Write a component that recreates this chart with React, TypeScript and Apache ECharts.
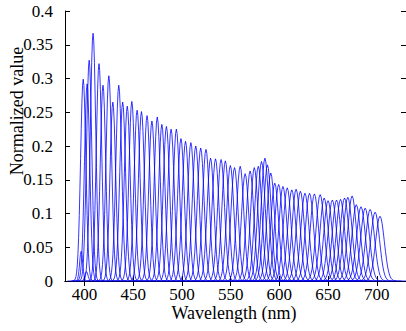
import React, { useEffect, useRef } from "react";
import * as echarts from "echarts";

// Peak wavelength (nm) of each band
const bandCenters = [
  396.6, 402.0, 398.7, 402.7, 404.8, 408.8, 414.9, 419.0, 425.0, 429.1,
  435.2, 439.2, 443.9, 448.6, 454.0, 458.5, 464.2, 469.2, 474.7, 479.4,
  484.1, 488.9, 494.3, 499.0, 503.7, 509.2, 514.2, 519.3, 524.7, 529.4,
  534.5, 540.2, 544.6, 549.7, 554.0, 559.8, 564.9, 570.0, 574.3, 578.4,
  581.7, 585.2, 587.8, 591.2, 595.3, 599.3, 603.7, 608.1, 612.8, 617.2,
  621.6, 626.3, 631.0, 636.0, 641.9, 646.0, 650.0, 654.4, 658.7, 662.8,
  666.9, 670.3, 674.7, 679.0, 683.8, 688.1, 693.2, 698.3, 703.3,
];
// Peak height of each band
const bandHeights = [
  0.044, 0.014, 0.299, 0.292, 0.327, 0.367, 0.322, 0.29, 0.304, 0.265,
  0.29, 0.265, 0.259, 0.266, 0.253, 0.251, 0.245, 0.237, 0.243, 0.232,
  0.229, 0.225, 0.225, 0.211, 0.207, 0.205, 0.2, 0.197, 0.195, 0.182,
  0.181, 0.18, 0.178, 0.171, 0.168, 0.17, 0.159, 0.163, 0.168, 0.17,
  0.177, 0.182, 0.172, 0.16, 0.145, 0.143, 0.14, 0.138, 0.135, 0.136,
  0.133, 0.13, 0.13, 0.129, 0.128, 0.123, 0.119, 0.12, 0.12, 0.121,
  0.123, 0.124, 0.126, 0.113, 0.11, 0.108, 0.106, 0.102, 0.096,
];
// Band width (nm, one standard deviation) of each band
const bandWidths = [
  1.6, 1.6, 2.7, 2.7, 2.7, 2.8, 2.8, 2.8, 2.9, 2.9,
  3.0, 3.0, 3.0, 3.0, 3.1, 3.1, 3.1, 3.2, 3.2, 3.2,
  3.3, 3.3, 3.3, 3.4, 3.4, 3.4, 3.5, 3.5, 3.5, 3.5,
  3.6, 3.6, 3.6, 3.7, 3.7, 3.7, 3.8, 3.8, 3.8, 3.8,
  3.9, 3.9, 3.9, 3.9, 4.0, 4.0, 4.0, 4.0, 4.1, 4.1,
  4.1, 4.1, 4.2, 4.2, 4.2, 4.2, 4.3, 4.3, 4.3, 4.3,
  4.4, 4.4, 4.4, 4.4, 4.5, 4.5, 4.5, 4.5, 4.5,
];
// Relative band profile, sampled at offsets (in band widths) from the peak
const shapeOffsets = [
  -6, -4, -3.5, -3.25, -3, -2.75, -2.5, -2.25, -2, -1.75, -1.5, -1.25, -1, -0.75, -0.5, -0.25,
  0, 0.25, 0.5, 0.75, 1, 1.25, 1.5, 1.75, 2, 2.25, 2.5, 2.75, 3, 3.25, 3.5, 4, 6,
];
const shapeValues = [
  0, 0, 0.0022, 0.0051, 0.0111, 0.0228, 0.0439, 0.0796, 0.1353, 0.2163, 0.3247, 0.4578, 0.6065, 0.7548, 0.8825, 0.9692,
  1, 0.9692, 0.8825, 0.7548, 0.6065, 0.4578, 0.3247, 0.2163, 0.1353, 0.0796, 0.0439, 0.0228, 0.0111, 0.0051, 0.0022, 0, 0,
];

const xTicks = [400, 450, 500, 550, 600, 650, 700];

const FONT = "Liberation Serif";

export default function App() {
  const ref = useRef<HTMLDivElement>(null);
  useEffect(() => {
    if (!ref.current) return;
    const chart = echarts.init(ref.current, null, { renderer: "svg" });
    const series = bandCenters.map((c, i) => ({
      type: "line",
      xAxisIndex: 0,
      yAxisIndex: 0,
      showSymbol: false,
      symbol: "none",
      silent: true,
      clip: true,
      lineStyle: { color: "#0000ff", width: 0.8 },
      data: shapeOffsets.map((o, k) => [c + o * bandWidths[i], bandHeights[i] * shapeValues[k]]),
    }));
    const axisCommon = {
      type: "value",
      axisLine: { show: true, lineStyle: { color: "#000", width: 1 } },
      splitLine: { show: false },
    };
    const rich = {
      t: { color: "#000", fontFamily: FONT, fontSize: 17, fontWeight: "normal" },
    };
    chart.setOption({
      animation: false,
      backgroundColor: "#fff",
      textStyle: { fontFamily: FONT },
      grid: { left: 65, top: 11, width: 345, height: 270, containLabel: false },
      xAxis: [
        {
          ...axisCommon,
          position: "bottom",
          min: 380,
          max: 730,
          axisTick: { inside: true, length: 5, customValues: xTicks, lineStyle: { color: "#000" } },
          axisLabel: {
            customValues: xTicks,
            margin: 5,
            color: "#000",
            fontFamily: FONT,
            fontSize: 17,
            formatter: (v: number) => `{t|${v}}`,
            rich,
          },
        },
        {
          ...axisCommon,
          position: "top",
          min: 380,
          max: 730,
          axisTick: { inside: true, length: 5, customValues: xTicks, lineStyle: { color: "#000" } },
          axisLabel: { show: false },
        },
      ],
      yAxis: [
        {
          ...axisCommon,
          position: "left",
          min: 0,
          max: 0.4,
          interval: 0.05,
          axisTick: { inside: true, length: 5, lineStyle: { color: "#000" } },
          axisLabel: {
            margin: 12,
            color: "#000",
            fontFamily: FONT,
            fontSize: 17,
            formatter: (v: number) => `{t|${+v.toFixed(2)}}`,
            rich,
          },
        },
        {
          ...axisCommon,
          position: "right",
          min: 0,
          max: 0.4,
          interval: 0.05,
          axisTick: { inside: true, length: 5, lineStyle: { color: "#000" } },
          axisLabel: { show: false },
        },
      ],
      graphic: [
        {
          type: "text",
          x: 234,
          y: 313,
          style: {
            text: "Wavelength (nm)",
            font: `18px ${FONT}`,
            fill: "#000",
            textAlign: "center",
            textVerticalAlign: "middle",
          },
        },
        {
          type: "text",
          x: 17,
          y: 111,
          rotation: Math.PI / 2,
          style: {
            text: "Normalized value",
            font: `18px ${FONT}`,
            fill: "#000",
            textAlign: "center",
            textVerticalAlign: "middle",
          },
        },
      ],
      series,
    });
    return () => chart.dispose();
  }, []);
  return (
    <div
      ref={ref}
      style={{ position: "fixed", left: 0, top: 0, width: 406, height: 331, background: "#fff" }}
    />
  );
}
